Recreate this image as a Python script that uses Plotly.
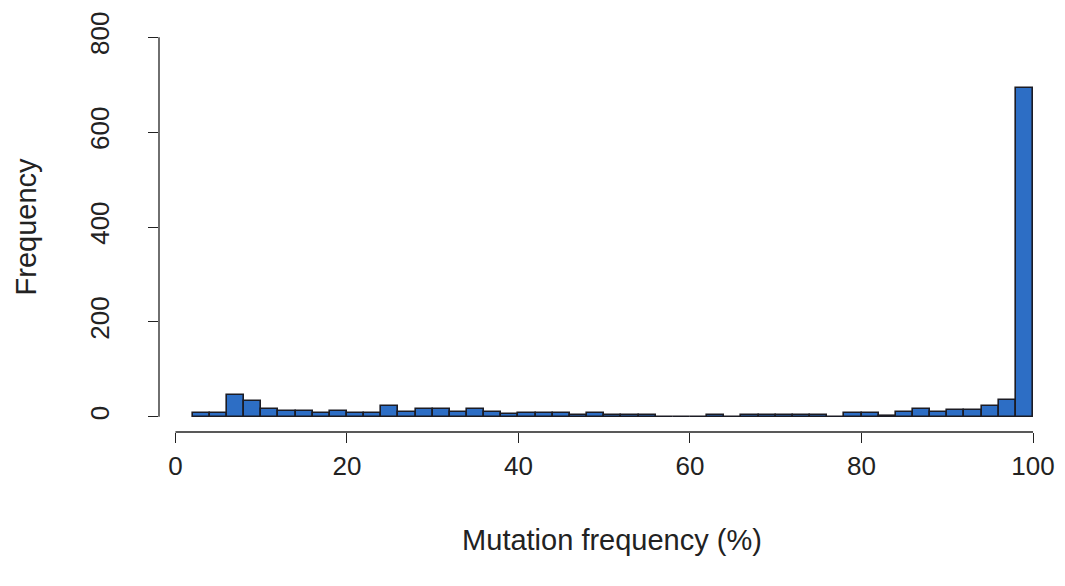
import plotly.graph_objects as go

# Histogram of mutation frequency (%), bins of width 2 from 2 to 100
bin_edges = list(range(2, 101, 2))
counts = [8, 8, 46, 33, 16, 12, 12, 9, 12, 8,
          8, 22, 11, 16, 16, 11, 16, 11, 5, 7,
          7, 7, 4, 7, 3, 3, 3, 0, 0, 0,
          4, 0, 3, 3, 3, 3, 3, 0, 7, 7,
          2, 11, 16, 11, 15, 15, 23, 36, 692]
x_ticks = [0, 20, 40, 60, 80, 100]
y_ticks = [0, 200, 400, 600, 800]

centers = [(a + b) / 2 for a, b in zip(bin_edges[:-1], bin_edges[1:])]
widths = [b - a for a, b in zip(bin_edges[:-1], bin_edges[1:])]

FONT = "Liberation Sans, Arial, sans-serif"
TXT = "#222222"

fig = go.Figure()
fig.add_trace(go.Bar(
    x=centers, y=counts, width=widths,
    marker=dict(color="#2D6EC5", line=dict(color="#1c1c24", width=1.6)),
    showlegend=False, hoverinfo="x+y",
))

# R-style axis lines spanning only the tick range
fig.add_shape(type="line", xref="x", yref="paper", x0=x_ticks[0], x1=x_ticks[-1],
              y0=0, y1=0, line=dict(color=TXT, width=1.3))
fig.add_shape(type="line", xref="paper", yref="y", x0=0, x1=0,
              y0=y_ticks[0], y1=y_ticks[-1], line=dict(color=TXT, width=1.3))

fig.update_layout(
    width=1065, height=586,
    margin=dict(l=159, r=0, t=22, b=154, autoexpand=False),
    paper_bgcolor="white", plot_bgcolor="white",
    font=dict(family=FONT, size=26, color=TXT),
    bargap=0,
    xaxis=dict(
        range=[-1.92, 103.73], tickvals=x_ticks, ticktext=[str(v) for v in x_ticks],
        ticks="outside", ticklen=10, tickwidth=1.3, tickcolor=TXT,
        tickfont=dict(family=FONT, size=26, color=TXT),
        showline=False, showgrid=False, zeroline=False,
        ticklabelstandoff=1,
        title=dict(text="Mutation frequency (%)", standoff=49,
                   font=dict(family=FONT, size=29, color=TXT)),
        automargin=False,
    ),
    yaxis=dict(
        range=[-32, 832], tickvals=y_ticks, ticktext=[str(v) for v in y_ticks],
        ticks="outside", ticklen=10, tickwidth=1.3, tickcolor=TXT,
        tickfont=dict(family=FONT, size=26, color=TXT),
        tickangle=-90,
        showline=False, showgrid=False, zeroline=False,
        ticklabelstandoff=29,
        title=dict(text="Frequency", standoff=39,
                   font=dict(family=FONT, size=29, color=TXT)),
        automargin=False,
    ),
)

fig.write_html("out.html",
               config={"displayModeBar": False},
               post_script="document.body.style.margin='0px';document.body.style.overflow='hidden';")
